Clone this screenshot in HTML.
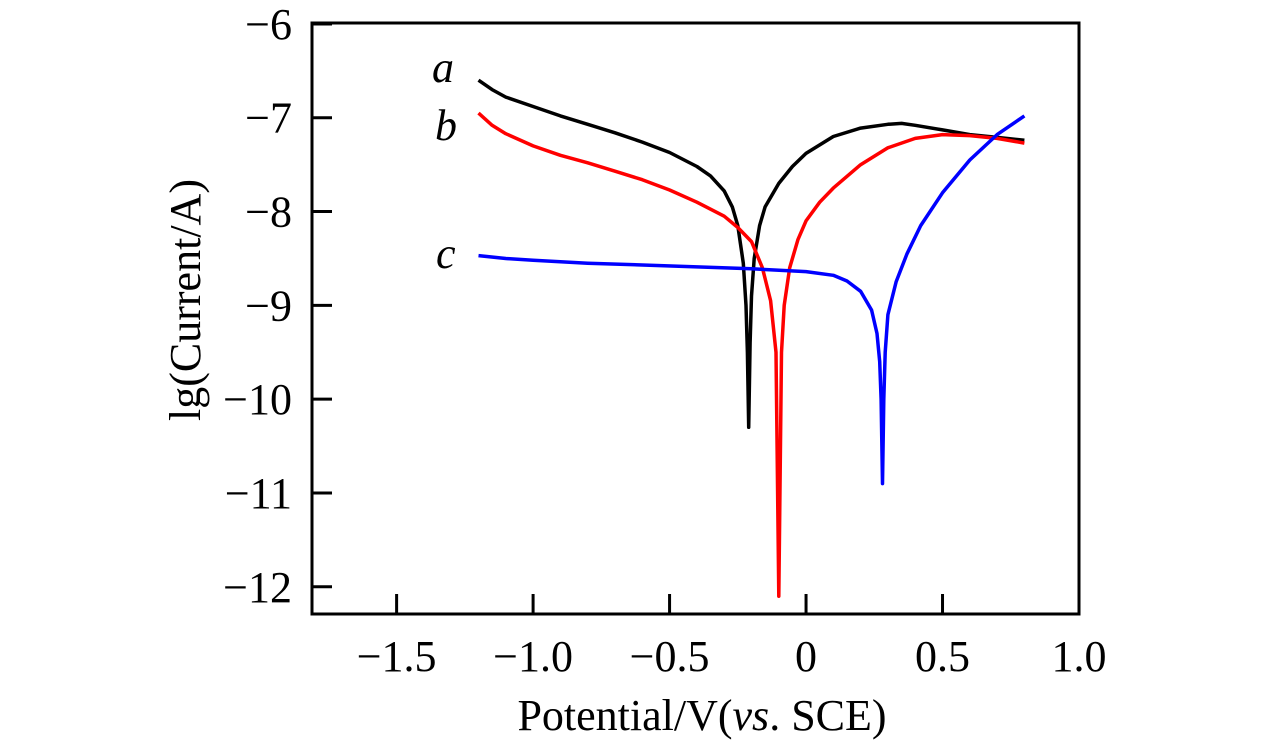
<!DOCTYPE html>
<html><head><meta charset="utf-8"><style>
body{margin:0;background:#fff;}
svg{display:block;font-family:"Liberation Serif",serif;}
</style></head><body>
<svg id="chart" width="1276" height="756" viewBox="0 0 1276 756">
<g id="plot"></g>
</svg>
<script>
const xTicks=[-1.5,-1.0,-0.5,0,0.5,1.0];
const xTickLabels=["\u22121.5","\u22121.0","\u22120.5","0","0.5","1.0"];
const yTicks=[-6,-7,-8,-9,-10,-11,-12];
const yTickLabels=["\u22126","\u22127","\u22128","\u22129","\u221210","\u221211","\u221212"];
const seriesA_x=[-1.2,-1.15,-1.1,-1.0,-0.9,-0.8,-0.7,-0.6,-0.5,-0.4,-0.35,-0.3,-0.27,-0.25,-0.23,-0.22,-0.215,-0.21,-0.205,-0.2,-0.19,-0.17,-0.15,-0.1,-0.05,0,0.1,0.2,0.3,0.35,0.4,0.5,0.6,0.7,0.8];
const seriesA_y=[-6.6,-6.7,-6.78,-6.88,-6.98,-7.07,-7.16,-7.26,-7.37,-7.52,-7.62,-7.78,-7.95,-8.15,-8.55,-9.0,-9.5,-10.3,-9.4,-8.9,-8.5,-8.15,-7.95,-7.7,-7.52,-7.38,-7.2,-7.11,-7.07,-7.06,-7.08,-7.13,-7.18,-7.21,-7.24];
const seriesB_x=[-1.2,-1.15,-1.1,-1.0,-0.9,-0.8,-0.7,-0.6,-0.5,-0.4,-0.3,-0.25,-0.2,-0.16,-0.13,-0.11,-0.1,-0.09,-0.08,-0.06,-0.03,0,0.05,0.1,0.2,0.3,0.4,0.5,0.6,0.7,0.8];
const seriesB_y=[-6.95,-7.08,-7.17,-7.3,-7.4,-7.48,-7.57,-7.66,-7.77,-7.9,-8.05,-8.17,-8.32,-8.6,-8.95,-9.5,-12.1,-9.5,-9.0,-8.6,-8.3,-8.1,-7.9,-7.75,-7.5,-7.32,-7.22,-7.18,-7.19,-7.22,-7.27];
const seriesC_x=[-1.2,-1.1,-1.0,-0.8,-0.6,-0.4,-0.2,0,0.1,0.15,0.2,0.24,0.26,0.27,0.275,0.28,0.285,0.29,0.3,0.33,0.37,0.42,0.5,0.6,0.7,0.8];
const seriesC_y=[-8.47,-8.5,-8.52,-8.55,-8.57,-8.59,-8.61,-8.64,-8.68,-8.74,-8.85,-9.05,-9.3,-9.6,-10.0,-10.9,-10.0,-9.5,-9.1,-8.75,-8.45,-8.15,-7.8,-7.45,-7.18,-6.98];
const xMin=-1.81,xMax=1.0,yMin=-12.29,yMax=-5.99;
const L=312,R=1079,T=23,B=614;
const sx=v=>L+(v-xMin)/(xMax-xMin)*(R-L);
const sy=v=>B-(v-yMin)/(yMax-yMin)*(B-T);
const NS="http://www.w3.org/2000/svg";
const g=document.getElementById('plot');
function mk(t,a){const e=document.createElementNS(NS,t);for(const k in a)e.setAttribute(k,a[k]);g.appendChild(e);return e;}
function line(xs,ys,color,name){
 const d=xs.map((x,i)=>(i?'L':'M')+sx(x).toFixed(1)+' '+sy(ys[i]).toFixed(1)).join(' ');
 const p=mk('path',{d:d,fill:'none',stroke:color,'stroke-width':3.5,'stroke-linejoin':'round'});
 
 
}
line(seriesA_x,seriesA_y,'#000','series-a-line');
line(seriesB_x,seriesB_y,'#f00','series-b-line');
line(seriesC_x,seriesC_y,'#00f','series-c-line');
const fr=mk('rect',{x:L,y:T,width:R-L,height:B-T,fill:'none',stroke:'#000','stroke-width':3});


xTicks.forEach((v,i)=>{
 const t=mk('line',{x1:sx(v),x2:sx(v),y1:B,y2:B-20,stroke:'#000','stroke-width':3});
 
 
 const l=mk('text',{x:sx(v),y:671,'font-size':44,'text-anchor':'middle'});
 l.textContent=xTickLabels[i];
 
 
});
yTicks.forEach((v,i)=>{
 const t=mk('line',{x1:L,x2:L+20,y1:sy(v),y2:sy(v),stroke:'#000','stroke-width':3});
 
 
 const l=mk('text',{x:292,y:sy(v)+15,'font-size':44,'text-anchor':'end'});
 l.textContent=yTickLabels[i];
 
 
});
function txt(x,y,s,name,extra){const e=mk('text',Object.assign({x:x,y:y,'font-size':44},extra||{}));e.innerHTML=s;return e;}
txt(432,82,'a','label-a',{'font-style':'italic','font-size':44});
txt(435,140,'b','label-b',{'font-style':'italic','font-size':44});
txt(436,268,'c','label-c',{'font-style':'italic','font-size':44});
txt(702,730,'Potential/V(<tspan font-style="italic">vs</tspan>. SCE)','x-axis-title',{'text-anchor':'middle','font-size':44});
txt(0,0,'lg(Current/A)','y-axis-title',{'text-anchor':'middle','font-size':44,transform:'translate(200,300) rotate(-90)'});
</script>
</body></html>
